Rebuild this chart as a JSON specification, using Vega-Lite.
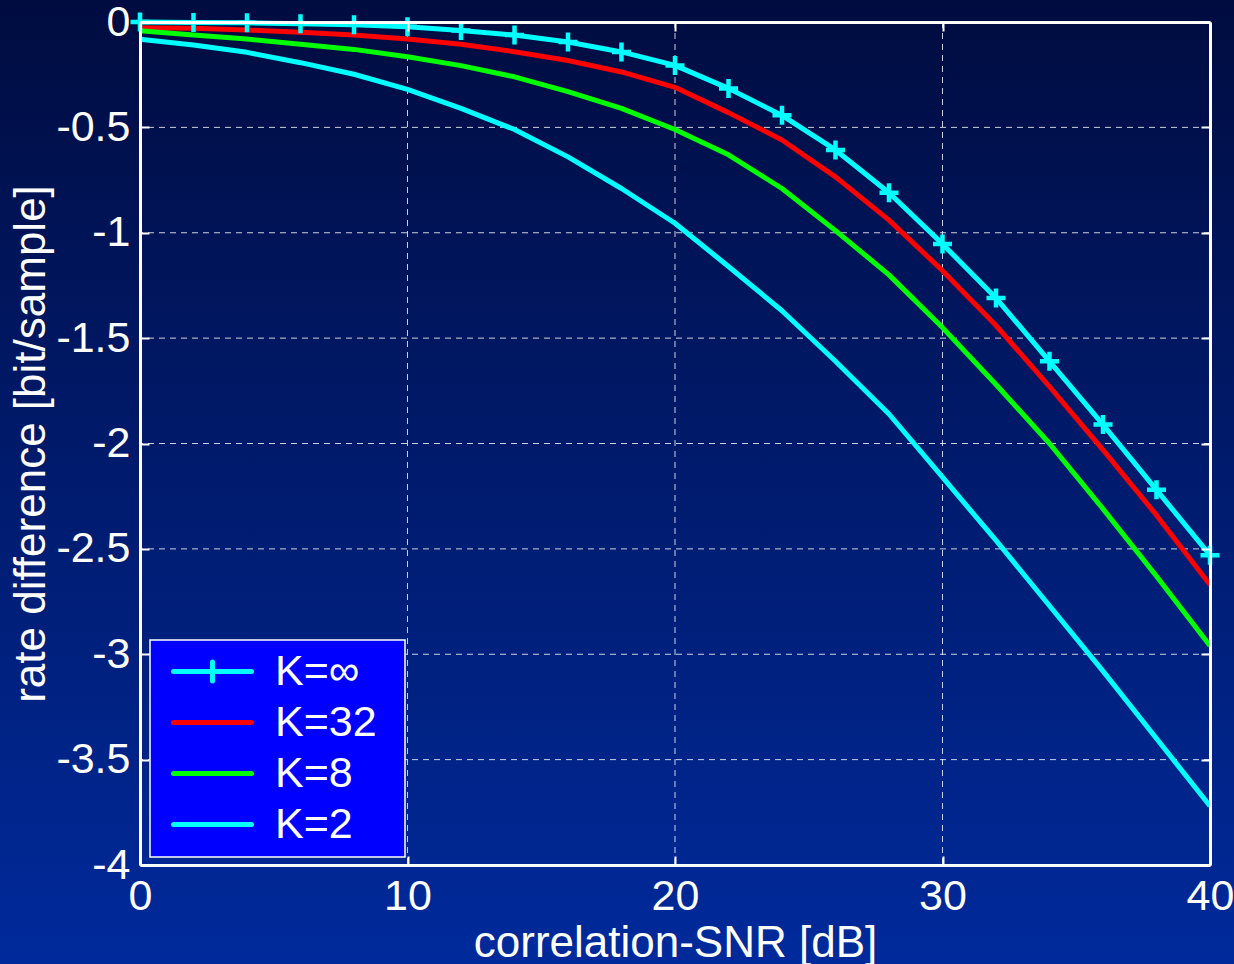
{
  "$schema": "https://vega.github.io/schema/vega-lite/v6.json",
  "width": 1070,
  "height": 843,
  "autosize": {"type": "none"},
  "padding": {"left": 140, "top": 22, "right": 24, "bottom": 99},
  "background": "#001a70",
  "config": {
    "font": "Liberation Sans",
    "view": {"stroke": null},
    "axis": {
      "domainColor": "white", "domainWidth": 3,
      "tickColor": "white", "tickWidth": 2, "tickSize": -9,
      "labelColor": "white", "labelFontSize": 43, "labelPadding": 19,
      "labelFlush": false, "labelOverlap": false,
      "titleColor": "white", "titleFontSize": 44, "titleFontWeight": "normal",
      "grid": false
    }
  },
  "datasets": {
    "curves": [
      {"snr": 0, "K": "K=∞", "rd": 0}, {"snr": 2, "K": "K=∞", "rd": -0.002}, {"snr": 4, "K": "K=∞", "rd": -0.004},
      {"snr": 6, "K": "K=∞", "rd": -0.008}, {"snr": 8, "K": "K=∞", "rd": -0.013}, {"snr": 10, "K": "K=∞", "rd": -0.022},
      {"snr": 12, "K": "K=∞", "rd": -0.04}, {"snr": 14, "K": "K=∞", "rd": -0.062}, {"snr": 16, "K": "K=∞", "rd": -0.095},
      {"snr": 18, "K": "K=∞", "rd": -0.142}, {"snr": 20, "K": "K=∞", "rd": -0.206}, {"snr": 22, "K": "K=∞", "rd": -0.315},
      {"snr": 24, "K": "K=∞", "rd": -0.443}, {"snr": 26, "K": "K=∞", "rd": -0.607}, {"snr": 28, "K": "K=∞", "rd": -0.81},
      {"snr": 30, "K": "K=∞", "rd": -1.053}, {"snr": 32, "K": "K=∞", "rd": -1.31}, {"snr": 34, "K": "K=∞", "rd": -1.61},
      {"snr": 36, "K": "K=∞", "rd": -1.91}, {"snr": 38, "K": "K=∞", "rd": -2.22}, {"snr": 40, "K": "K=∞", "rd": -2.53},

      {"snr": 0, "K": "K=32", "rd": -0.027}, {"snr": 2, "K": "K=32", "rd": -0.03}, {"snr": 4, "K": "K=32", "rd": -0.038},
      {"snr": 6, "K": "K=32", "rd": -0.049}, {"snr": 8, "K": "K=32", "rd": -0.062}, {"snr": 10, "K": "K=32", "rd": -0.081},
      {"snr": 12, "K": "K=32", "rd": -0.106}, {"snr": 14, "K": "K=32", "rd": -0.141}, {"snr": 16, "K": "K=32", "rd": -0.183},
      {"snr": 18, "K": "K=32", "rd": -0.237}, {"snr": 20, "K": "K=32", "rd": -0.31}, {"snr": 22, "K": "K=32", "rd": -0.43},
      {"snr": 24, "K": "K=32", "rd": -0.56}, {"snr": 26, "K": "K=32", "rd": -0.735}, {"snr": 28, "K": "K=32", "rd": -0.94},
      {"snr": 30, "K": "K=32", "rd": -1.18}, {"snr": 32, "K": "K=32", "rd": -1.44}, {"snr": 34, "K": "K=32", "rd": -1.73},
      {"snr": 36, "K": "K=32", "rd": -2.03}, {"snr": 38, "K": "K=32", "rd": -2.34}, {"snr": 40, "K": "K=32", "rd": -2.67},

      {"snr": 0, "K": "K=8", "rd": -0.041}, {"snr": 2, "K": "K=8", "rd": -0.062}, {"snr": 4, "K": "K=8", "rd": -0.081},
      {"snr": 6, "K": "K=8", "rd": -0.106}, {"snr": 8, "K": "K=8", "rd": -0.13}, {"snr": 10, "K": "K=8", "rd": -0.165},
      {"snr": 12, "K": "K=8", "rd": -0.207}, {"snr": 14, "K": "K=8", "rd": -0.26}, {"snr": 16, "K": "K=8", "rd": -0.33},
      {"snr": 18, "K": "K=8", "rd": -0.41}, {"snr": 20, "K": "K=8", "rd": -0.51}, {"snr": 22, "K": "K=8", "rd": -0.63},
      {"snr": 24, "K": "K=8", "rd": -0.79}, {"snr": 26, "K": "K=8", "rd": -0.99}, {"snr": 28, "K": "K=8", "rd": -1.2},
      {"snr": 30, "K": "K=8", "rd": -1.45}, {"snr": 32, "K": "K=8", "rd": -1.72}, {"snr": 34, "K": "K=8", "rd": -2.0},
      {"snr": 36, "K": "K=8", "rd": -2.31}, {"snr": 38, "K": "K=8", "rd": -2.63}, {"snr": 40, "K": "K=8", "rd": -2.96},

      {"snr": 0, "K": "K=2", "rd": -0.082}, {"snr": 2, "K": "K=2", "rd": -0.109}, {"snr": 4, "K": "K=2", "rd": -0.144},
      {"snr": 6, "K": "K=2", "rd": -0.193}, {"snr": 8, "K": "K=2", "rd": -0.248}, {"snr": 10, "K": "K=2", "rd": -0.32},
      {"snr": 12, "K": "K=2", "rd": -0.41}, {"snr": 14, "K": "K=2", "rd": -0.51}, {"snr": 16, "K": "K=2", "rd": -0.64},
      {"snr": 18, "K": "K=2", "rd": -0.79}, {"snr": 20, "K": "K=2", "rd": -0.955}, {"snr": 22, "K": "K=2", "rd": -1.16},
      {"snr": 24, "K": "K=2", "rd": -1.37}, {"snr": 26, "K": "K=2", "rd": -1.61}, {"snr": 28, "K": "K=2", "rd": -1.86},
      {"snr": 30, "K": "K=2", "rd": -2.16}, {"snr": 32, "K": "K=2", "rd": -2.46}, {"snr": 34, "K": "K=2", "rd": -2.77},
      {"snr": 36, "K": "K=2", "rd": -3.08}, {"snr": 38, "K": "K=2", "rd": -3.4}, {"snr": 40, "K": "K=2", "rd": -3.72}
    ],
    "gridx": [{"g": 10}, {"g": 20}, {"g": 30}],
    "gridy": [{"g": -0.5}, {"g": -1}, {"g": -1.5}, {"g": -2}, {"g": -2.5}, {"g": -3}, {"g": -3.5}]
  },
  "resolve": {"axis": {"x": "independent", "y": "independent"}},
  "layer": [
    {
      "data": {"values": [{"bg": 1}]},
      "mark": {
        "type": "rect", "clip": false,
        "fill": {"gradient": "linear", "x1": 0, "y1": 0, "x2": 0, "y2": 1,
          "stops": [{"offset": 0, "color": "#000c40"}, {"offset": 1, "color": "#002a9c"}]}
      },
      "encoding": {
        "x": {"datum": -5.3, "type": "quantitative", "scale": {"domain": [0, 40], "nice": false, "zero": false}, "axis": null},
        "x2": {"datum": 41},
        "y": {"datum": 0.11, "type": "quantitative", "scale": {"domain": [-4, 0], "nice": false, "zero": false}, "axis": null},
        "y2": {"datum": -4.5}
      }
    },
    {
      "data": {"name": "gridx"},
      "mark": {"type": "rule", "color": "white", "strokeWidth": 1, "strokeDash": [6, 5], "opacity": 0.8},
      "encoding": {
        "x": {"field": "g", "type": "quantitative", "scale": {"domain": [0, 40], "nice": false, "zero": false}, "axis": null}
      }
    },
    {
      "data": {"name": "gridy"},
      "mark": {"type": "rule", "color": "white", "strokeWidth": 1, "strokeDash": [6, 5], "opacity": 0.8},
      "encoding": {
        "y": {"field": "g", "type": "quantitative", "scale": {"domain": [-4, 0], "nice": false, "zero": false}, "axis": null}
      }
    },
    {
      "data": {"name": "curves"},
      "mark": {"type": "line", "strokeWidth": 5, "strokeJoin": "round"},
      "encoding": {
        "x": {"field": "snr", "type": "quantitative",
          "scale": {"domain": [0, 40], "nice": false, "zero": false},
          "axis": {"orient": "bottom", "zindex": 1, "values": [0, 10, 20, 30, 40], "title": "correlation-SNR [dB]", "titlePadding": 3}},
        "y": {"field": "rd", "type": "quantitative",
          "scale": {"domain": [-4, 0], "nice": false, "zero": false},
          "axis": {"orient": "left", "zindex": 1, "values": [0, -0.5, -1, -1.5, -2, -2.5, -3, -3.5, -4],
            "labelExpr": "toString(datum.value)", "title": "rate difference [bit/sample]", "titlePadding": 2}},
        "color": {"field": "K", "type": "nominal",
          "scale": {"domain": ["K=∞", "K=32", "K=8", "K=2"], "range": ["#00ffff", "#ff0000", "#00ff00", "#00ffff"]},
          "legend": {
            "orient": "none", "legendX": 10, "legendY": 618,
            "title": "\u2800", "titleOrient": "right", "titleFontSize": 25, "titlePadding": 0,
            "titleColor": "white",
            "fillColor": "#0000ff", "strokeColor": "white", "padding": 10,
            "labelFontSize": 43, "labelColor": "white", "labelOffset": 72,
            "symbolSize": 400, "symbolStrokeWidth": 5, "rowPadding": 7,
            "encode": {
              "legend": {"update": {"strokeWidth": {"value": 1.5}}},
              "symbols": {"update": {
                "shape": {"signal": "datum.value === 'K=∞' ? 'M-0.8,0H7M3.1,-0.95V0.95' : 'M-0.8,0H7'"},
                "strokeCap": {"value": "round"},
                "fill": {"value": "transparent"}
              }}
            }
          }}
      }
    },
    {
      "data": {"name": "curves"},
      "transform": [{"filter": "datum.K === 'K=∞'"}],
      "mark": {"type": "point", "shape": "M-1,0H1M0,-1V1", "size": 361, "filled": false,
        "stroke": "#00ffff", "strokeWidth": 4.5, "opacity": 1},
      "encoding": {
        "x": {"field": "snr", "type": "quantitative",
          "scale": {"domain": [0, 40], "nice": false, "zero": false},
          "axis": {"orient": "top", "zindex": 1, "values": [0, 10, 20, 30, 40], "labels": false, "title": null}},
        "y": {"field": "rd", "type": "quantitative",
          "scale": {"domain": [-4, 0], "nice": false, "zero": false},
          "axis": {"orient": "right", "zindex": 1, "values": [0, -0.5, -1, -1.5, -2, -2.5, -3, -3.5, -4], "labels": false, "title": null}}
      }
    }
  ]
}
